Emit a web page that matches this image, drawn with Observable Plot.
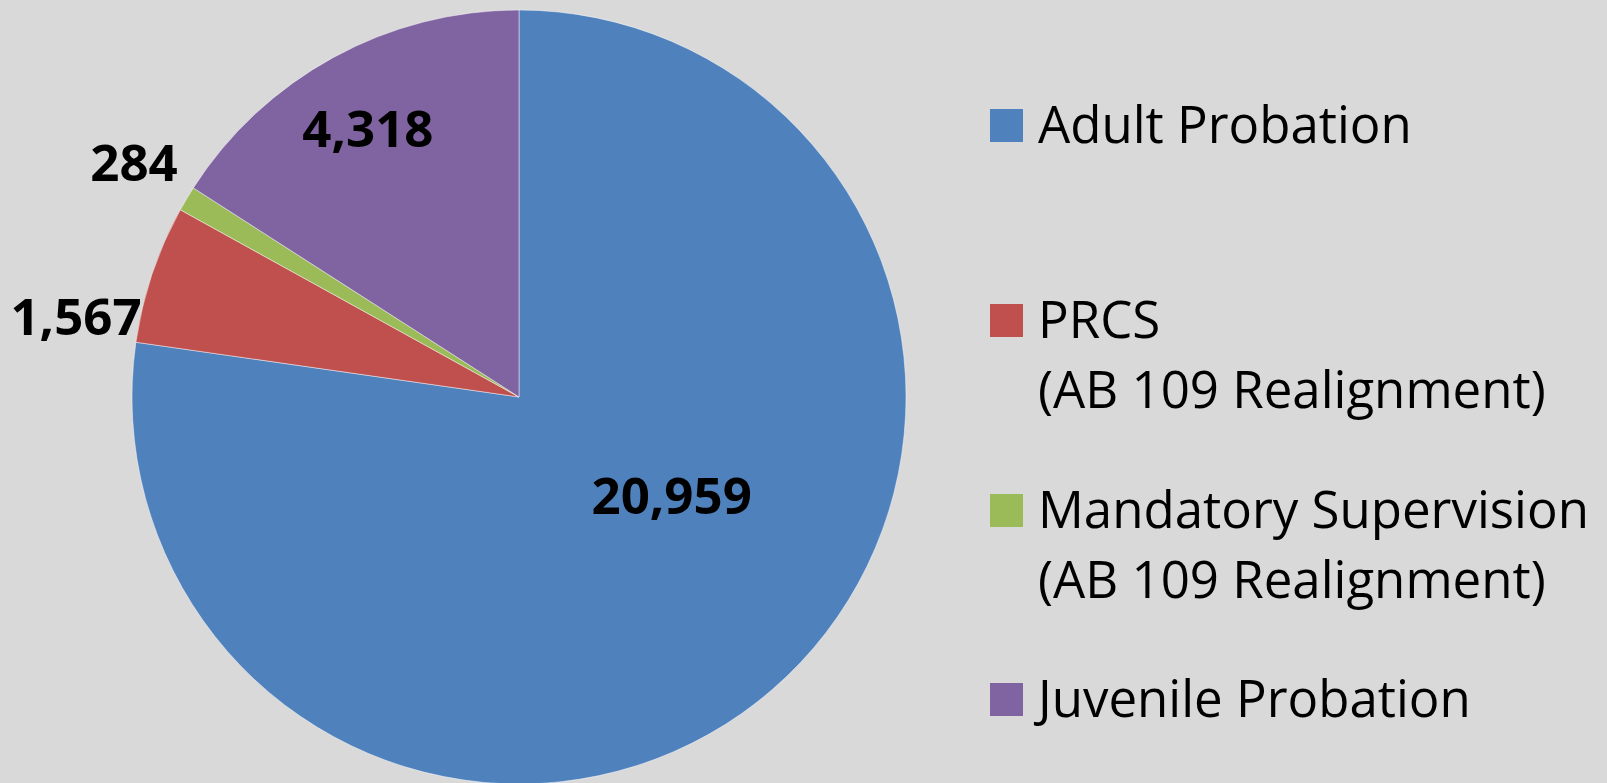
<!DOCTYPE html>
<html><head><meta charset="utf-8">
<script src="https://cdn.jsdelivr.net/npm/d3@7"></script>
<script src="https://cdn.jsdelivr.net/npm/@observablehq/plot@0.6"></script>
<style>
html,body{margin:0;padding:0;background:#d9d9d9;}
#wrap{position:relative;width:1607px;height:783px;overflow:hidden;font-family:"Open Sans",sans-serif;}
#chart svg{display:block}
.entry{position:absolute;left:990px;font-size:51px;line-height:70px;color:#000;}
.sw{position:absolute;left:0;width:33px;height:33px;top:21px}
.lab{position:absolute;left:48px;white-space:nowrap}
</style></head><body>
<div id="wrap"><div id="chart"></div><div id="legend"></div></div>
<script>
// ---- data ----
const categories = ["Adult Probation", "PRCS (AB 109 Realignment)", "Mandatory Supervision (AB 109 Realignment)", "Juvenile Probation"];
const legendLines = [["Adult Probation"], ["PRCS", "(AB 109 Realignment)"], ["Mandatory Supervision", "(AB 109 Realignment)"], ["Juvenile Probation"]];
const values = [20959, 1567, 284, 4318];
const colors = ["#4F81BD", "#C0504D", "#9BBB59", "#8064A2"];

// ---- layout (styling only) ----
const labelLayout = [
  {r: 0.47, dx: 33, dy: -37},
  {r: 1.165, dx: -16, dy: 64},
  {r: 1.16, dx: 0, dy: -3},
  {r: 0.79, dx: -5, dy: 1}
];
const legendTops = [88, 283, 473, 662];

const data = categories.map((c, i) => ({name: c, value: values[i], color: colors[i]}));
const arcs = d3.pie().sort(null).value(d => d.value)(data);

function pieMark(index, scales) {
  const cx = scales.x(0), cy = scales.y(0);
  const r = scales.x(1) - cx;
  const arc = d3.arc().innerRadius(0).outerRadius(r);
  const g = d3.create("svg:g").attr("transform", `translate(${cx},${cy})`);
  g.selectAll("path").data(arcs).join("path")
    .attr("d", arc)
    .attr("fill", d => d.data.color)
    .attr("stroke", "#ffffff")
    .attr("stroke-opacity", 0.45)
    .attr("stroke-width", 1);
  return g.node();
}

const fmt = d3.format(",");
const labelMarks = arcs.map((a, i) => {
  const mid = (a.startAngle + a.endAngle) / 2;
  const L = labelLayout[i];
  const d = {u: L.r * Math.sin(mid), v: L.r * Math.cos(mid), t: fmt(a.data.value)};
  return Plot.text([d], {x: "u", y: "v", text: "t", dx: L.dx, dy: L.dy,
    fontSize: 51, fontWeight: "bold", fill: "#000", fontFamily: "Open Sans"});
});

const chart = Plot.plot({
  width: 1607, height: 783, margin: 0,
  x: {domain: [-1, 1], range: [132, 906], axis: null},
  y: {domain: [-1, 1], range: [784, 10], axis: null},
  style: {background: "transparent", fontFamily: "Open Sans"},
  marks: [pieMark, ...labelMarks]
});
document.getElementById("chart").appendChild(chart);

const legend = document.getElementById("legend");
legendLines.forEach((lines, i) => {
  const e = document.createElement("div");
  e.className = "entry";
  e.style.top = legendTops[i] + "px";
  const sw = document.createElement("div");
  sw.className = "sw"; sw.style.background = colors[i];
  e.appendChild(sw);
  const lab = document.createElement("div");
  lab.className = "lab";
  lab.innerHTML = lines.map(s => `<div>${s}</div>`).join("");
  e.appendChild(lab);
  legend.appendChild(e);
});
</script>
</body></html>
